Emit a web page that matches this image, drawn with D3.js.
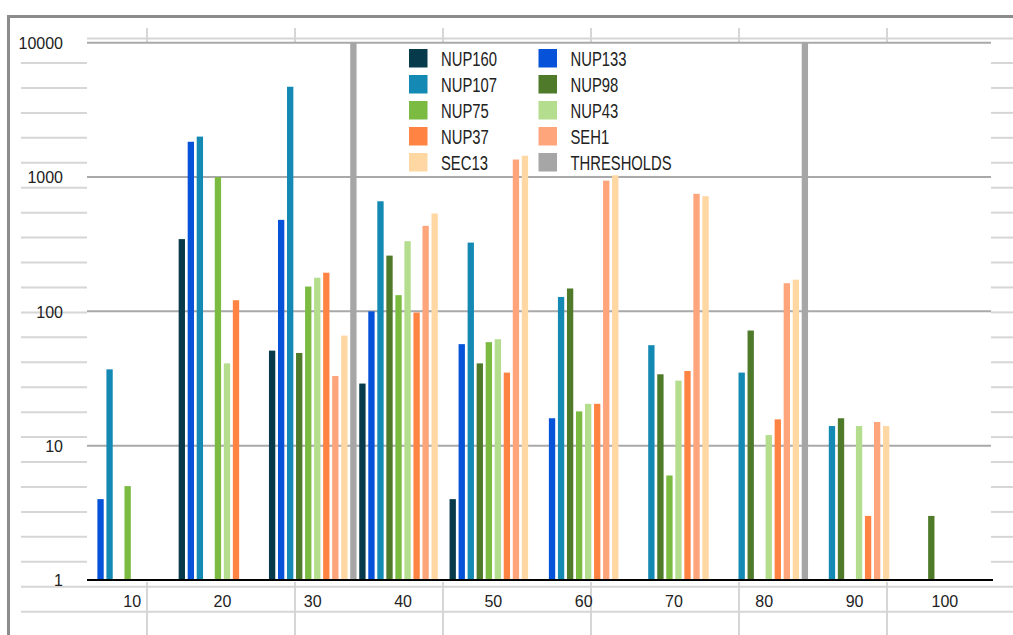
<!DOCTYPE html>
<html>
<head>
<meta charset="utf-8">
<script src="https://cdn.jsdelivr.net/npm/d3@7"></script>
<style>
  html, body { margin: 0; padding: 0; background: #fff; }
  svg { display: block; }
  text { font-family: "Liberation Sans", Arial, sans-serif; fill: #222; }
</style>
</head>
<body>
<script>
// ---- data ----
const categories = ["10", "20", "30", "40", "50", "60", "70", "80", "90", "100"];
const seriesNames = ["NUP160", "NUP133", "NUP107", "NUP98", "NUP75", "NUP43", "NUP37", "SEH1", "SEC13", "THRESHOLDS"];
const NUP160     = [null, 345, 51, 29, 4, null, null, null, null, null];
const NUP133     = [4, 1830, 480, 100, 57, 16, null, null, null, null];
const NUP107     = [37, 2000, 4700, 660, 325, 128, 56, 35, 14, null];
const NUP98      = [null, null, 49, 260, 41, 148, 34, 72, 16, 3];
const NUP75      = [5, 1000, 153, 132, 59, 18, 6, null, null, null];
const NUP43      = [null, 41, 178, 333, 62, 20.5, 30.5, 12, 14, null];
const NUP37      = [null, 121, 194, 98, 35, 20.5, 36, 15.7, 3, null];
const SEH1       = [null, null, 33, 433, 1350, 940, 750, 162, 15, null];
const SEC13      = [null, null, 66, 535, 1440, 1030, 720, 172, 14, null];
const THRESHOLDS = [null, null, 10000, null, null, null, null, 10000, null, null];
const yTicks = [1, 10, 100, 1000, 10000];
const colors = ["#073a4a", "#0652d8", "#1489b3", "#4e7a2a", "#7bbb42", "#b4de8e", "#ff8443", "#ffa57c", "#ffd7a2", "#a6a6a6"];

const seriesValues = [NUP160, NUP133, NUP107, NUP98, NUP75, NUP43, NUP37, SEH1, SEC13, THRESHOLDS];

// ---- layout ----
const W = 1013, H = 635;
const plot = { left: 87, right: 990, top: 42.7, bottom: 580 };

const svg = d3.select("body").append("svg").attr("width", W).attr("height", H);
svg.append("rect").attr("width", W).attr("height", H).attr("fill", "#fff");

// spreadsheet grid showing around the chart
const sheet = svg.append("g").attr("stroke", "#d6d6d6").attr("stroke-width", 2).attr("fill", "none");
const rowH = 24.94, row0 = 63;
const rows = d3.range(0, 23).map(k => row0 + rowH * k);
rows.forEach(y => {
  if (y < plot.bottom) {
    sheet.append("line").attr("x1", 21).attr("x2", plot.left).attr("y1", y).attr("y2", y);
    sheet.append("line").attr("x1", plot.right + 1).attr("x2", W).attr("y1", y).attr("y2", y);
  } else {
    sheet.append("line").attr("x1", 21).attr("x2", W).attr("y1", y).attr("y2", y);
  }
});
sheet.append("line").attr("x1", plot.left).attr("x2", W).attr("y1", 38.5).attr("y2", 38.5);
d3.range(0, 6).map(k => 147 + 148 * k).forEach(x => {
  sheet.append("line").attr("x1", x).attr("x2", x).attr("y1", 28).attr("y2", 42);
  sheet.append("line").attr("x1", x).attr("x2", x).attr("y1", 582).attr("y2", H);
});

// frame
svg.append("line").attr("x1", 7).attr("x2", W).attr("y1", 16.5).attr("y2", 16.5)
  .attr("stroke", "#8c8c8c").attr("stroke-width", 3);
svg.append("line").attr("x1", 8.5).attr("x2", 8.5).attr("y1", 15).attr("y2", H)
  .attr("stroke", "#8c8c8c").attr("stroke-width", 3);

// scales
const y = d3.scaleLog().domain([1, 10000]).range([plot.bottom, plot.top]);
const x0 = d3.scaleBand().domain(categories).range([plot.left, plot.right]).padding(0);
const x1 = d3.scaleBand().domain(seriesNames).range([0, x0.bandwidth()]).paddingInner(0.3).paddingOuter(0.15);

// major gridlines
svg.append("g").selectAll("line").data(yTicks.filter(t => t > 1)).join("line")
  .attr("x1", plot.left).attr("x2", plot.right + 1)
  .attr("y1", d => y(d)).attr("y2", d => y(d))
  .attr("stroke", "#a9a9a9").attr("stroke-width", 2);

// bars
const groups = svg.append("g").selectAll("g").data(categories).join("g")
  .attr("transform", d => `translate(${x0(d)},0)`);
groups.selectAll("rect")
  .data((c, i) => seriesNames.map((s, j) => ({ s, j, v: seriesValues[j][i] })).filter(d => d.v != null))
  .join("rect")
  .attr("x", d => x1(d.s))
  .attr("width", x1.bandwidth())
  .attr("y", d => y(d.v))
  .attr("height", d => y(1) - y(d.v))
  .attr("fill", d => colors[d.j]);

// x axis line
svg.append("line").attr("x1", plot.left).attr("x2", plot.right + 3)
  .attr("y1", plot.bottom).attr("y2", plot.bottom)
  .attr("stroke", "#000").attr("stroke-width", 2);

// y labels
const yAxis = d3.axisLeft(y).tickValues(yTicks).tickFormat(d3.format("d")).tickSize(0).tickPadding(0);
const yg = svg.append("g").attr("transform", "translate(63,0)").call(yAxis);
yg.select(".domain").remove();
yg.selectAll("text").attr("font-size", 16).attr("fill", "#222")
  .attr("font-family", "Liberation Sans, Arial, sans-serif").attr("dy", "0.36em");

// x labels
const xAxis = d3.axisBottom(x0).tickSize(0).tickPadding(0);
const xg = svg.append("g").attr("transform", `translate(0,${plot.bottom})`).call(xAxis);
xg.select(".domain").remove();
xg.selectAll("text").attr("font-size", 16).attr("fill", "#222")
  .attr("font-family", "Liberation Sans, Arial, sans-serif").attr("dy", "0").attr("y", 27);

// legend
const legend = svg.append("g");
const legCols = [409, 538.5], legTop = 49, legStep = 26, sw = 18.5;
seriesNames.forEach((name, i) => {
  const cx = legCols[i % 2], cy = legTop + Math.floor(i / 2) * legStep;
  legend.append("rect").attr("x", cx).attr("y", cy).attr("width", sw).attr("height", sw).attr("fill", colors[i]);
  legend.append("text")
    .attr("transform", `translate(${cx + 32},${cy + sw / 2}) scale(0.78,1.08)`)
    .attr("dy", "0.36em").attr("font-size", 19).text(name);
});
</script>
</body>
</html>
